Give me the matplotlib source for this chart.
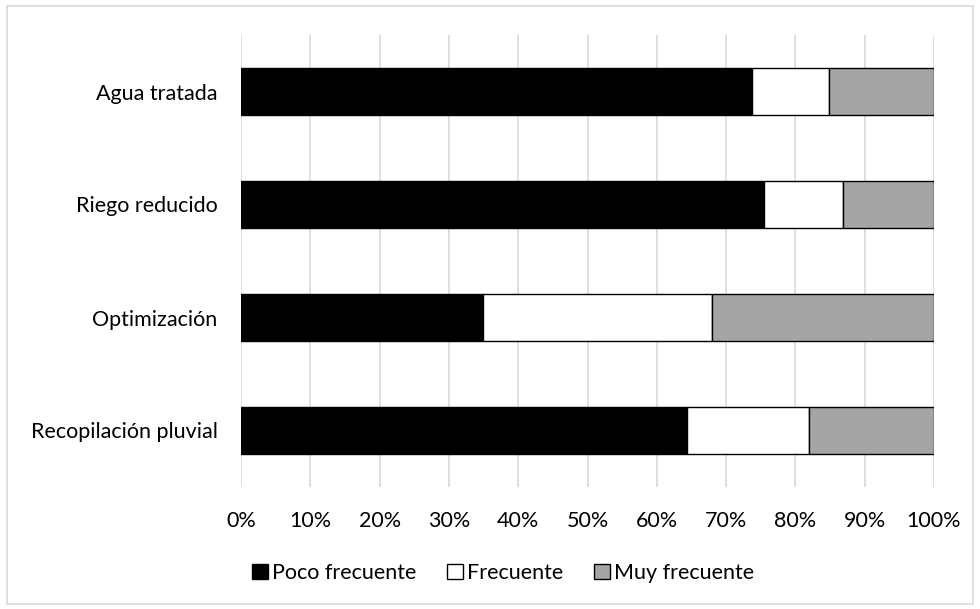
import numpy as np
import matplotlib.pyplot as plt
from matplotlib.patches import Rectangle
from matplotlib.ticker import PercentFormatter

plt.rcParams['font.family'] = ['Lato', 'DejaVu Sans']

categorias = ['Recopilación pluvial', 'Optimización', 'Riego reducido', 'Agua tratada']
poco_frecuente = [64.3, 34.9, 75.5, 73.7]
frecuente = [17.7, 33.0, 11.3, 11.1]
muy_frecuente = [18.0, 32.1, 13.2, 15.2]
series = ['Poco frecuente', 'Frecuente', 'Muy frecuente']
colores = ['#000000', '#FFFFFF', '#A5A5A5']

fig = plt.figure(figsize=(9.8, 6.09), dpi=100)
ax = fig.add_axes([241 / 980, 1 - 487 / 609, (934 - 241) / 980, (487 - 35) / 609])

y = np.arange(len(categorias))
izq = np.zeros(len(categorias))
for vals, nombre, col in zip([poco_frecuente, frecuente, muy_frecuente], series, colores):
    ax.barh(y, vals, left=izq, height=0.42, color=col, edgecolor='#000000',
            linewidth=1.0, label=nombre, zorder=3)
    izq += np.array(vals)

ax.set_xlim(0, 100)
ax.set_ylim(-0.5, len(categorias) - 0.5)
ax.set_xticks(np.arange(0, 101, 10))
ax.xaxis.set_major_formatter(PercentFormatter(decimals=0))
ax.set_yticks(y)
ax.set_yticklabels(categorias)
ax.grid(axis='x', color='#D9D9D9', linewidth=1.2, zorder=0)
for s in ax.spines.values():
    s.set_visible(False)
ax.tick_params(axis='both', length=0, labelsize=15.5, colors='#000000')
ax.tick_params(axis='x', pad=17)
ax.tick_params(axis='y', pad=17)

leg = fig.legend(loc='center', bbox_to_anchor=(503 / 980, 1 - 573 / 609), ncol=3,
                 frameon=False, fontsize=15.5, handlelength=0.75, handleheight=0.75,
                 handletextpad=0.2, columnspacing=1.4)

# borde exterior del gráfico
fig.patches.append(Rectangle((7 / 980, 5 / 609), 966 / 980, 598 / 609,
                             transform=fig.transFigure, fill=False,
                             edgecolor='#D9D9D9', linewidth=1.2))

fig.savefig('out.png', dpi=100)
